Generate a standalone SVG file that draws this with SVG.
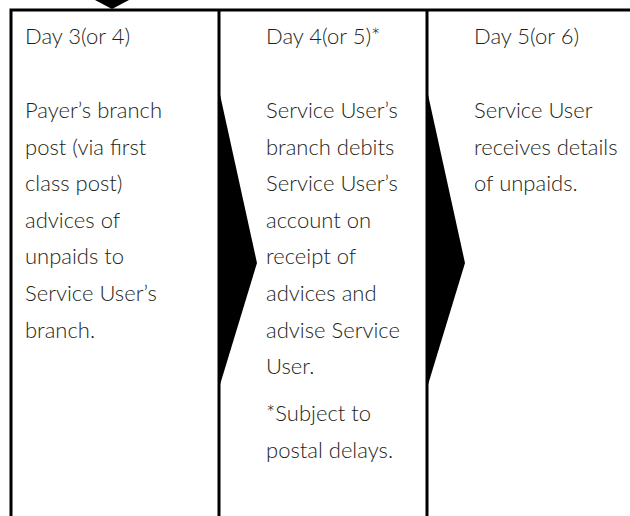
<svg xmlns="http://www.w3.org/2000/svg" width="630" height="516" viewBox="0 0 630 516">
<style>
.t{font-family:Lato,"Open Sans","Liberation Sans",sans-serif;font-weight:300;font-size:22px;fill:#231f20}
.ln{stroke:#000;stroke-width:3;fill:none}
.ch{fill:#000;stroke:none}
</style>
<rect width="630" height="516" fill="#fff"/>
<g id="connectors">
<polygon class="ch" points="95,0 129,0 112,9"/>
<polygon class="ch" points="219,90 257,263 219,388"/>
<polygon class="ch" points="427,90 465,263 427,388"/>
</g>
<g id="frame">
<path class="ln" d="M11,516 V10 H630 M219,10 V516 M427,10 V516"/>
</g>
<g id="day3">
<text class="t" x="25" y="44">Day 3(or 4)</text>
<text class="t" x="25" y="118">Payer’s branch</text>
<text class="t" x="25" y="155">post (via first</text>
<text class="t" x="25" y="191">class post)</text>
<text class="t" x="25" y="228">advices of</text>
<text class="t" x="25" y="264">unpaids to</text>
<text class="t" x="25" y="301">Service User’s</text>
<text class="t" x="25" y="338">branch.</text>
</g>
<g id="day4">
<text class="t" x="266" y="44">Day 4(or 5)*</text>
<text class="t" x="266" y="118">Service User’s</text>
<text class="t" x="266" y="155">branch debits</text>
<text class="t" x="266" y="191">Service User’s</text>
<text class="t" x="266" y="228">account on</text>
<text class="t" x="266" y="264">receipt of</text>
<text class="t" x="266" y="301">advices and</text>
<text class="t" x="266" y="338">advise Service</text>
<text class="t" x="266" y="374">User.</text>
<text class="t" x="266" y="421">*Subject to</text>
<text class="t" x="266" y="458">postal delays.</text>
</g>
<g id="day5">
<text class="t" x="474" y="44">Day 5(or 6)</text>
<text class="t" x="474" y="118">Service User</text>
<text class="t" x="474" y="155">receives details</text>
<text class="t" x="474" y="191">of unpaids.</text>
</g>
</svg>
